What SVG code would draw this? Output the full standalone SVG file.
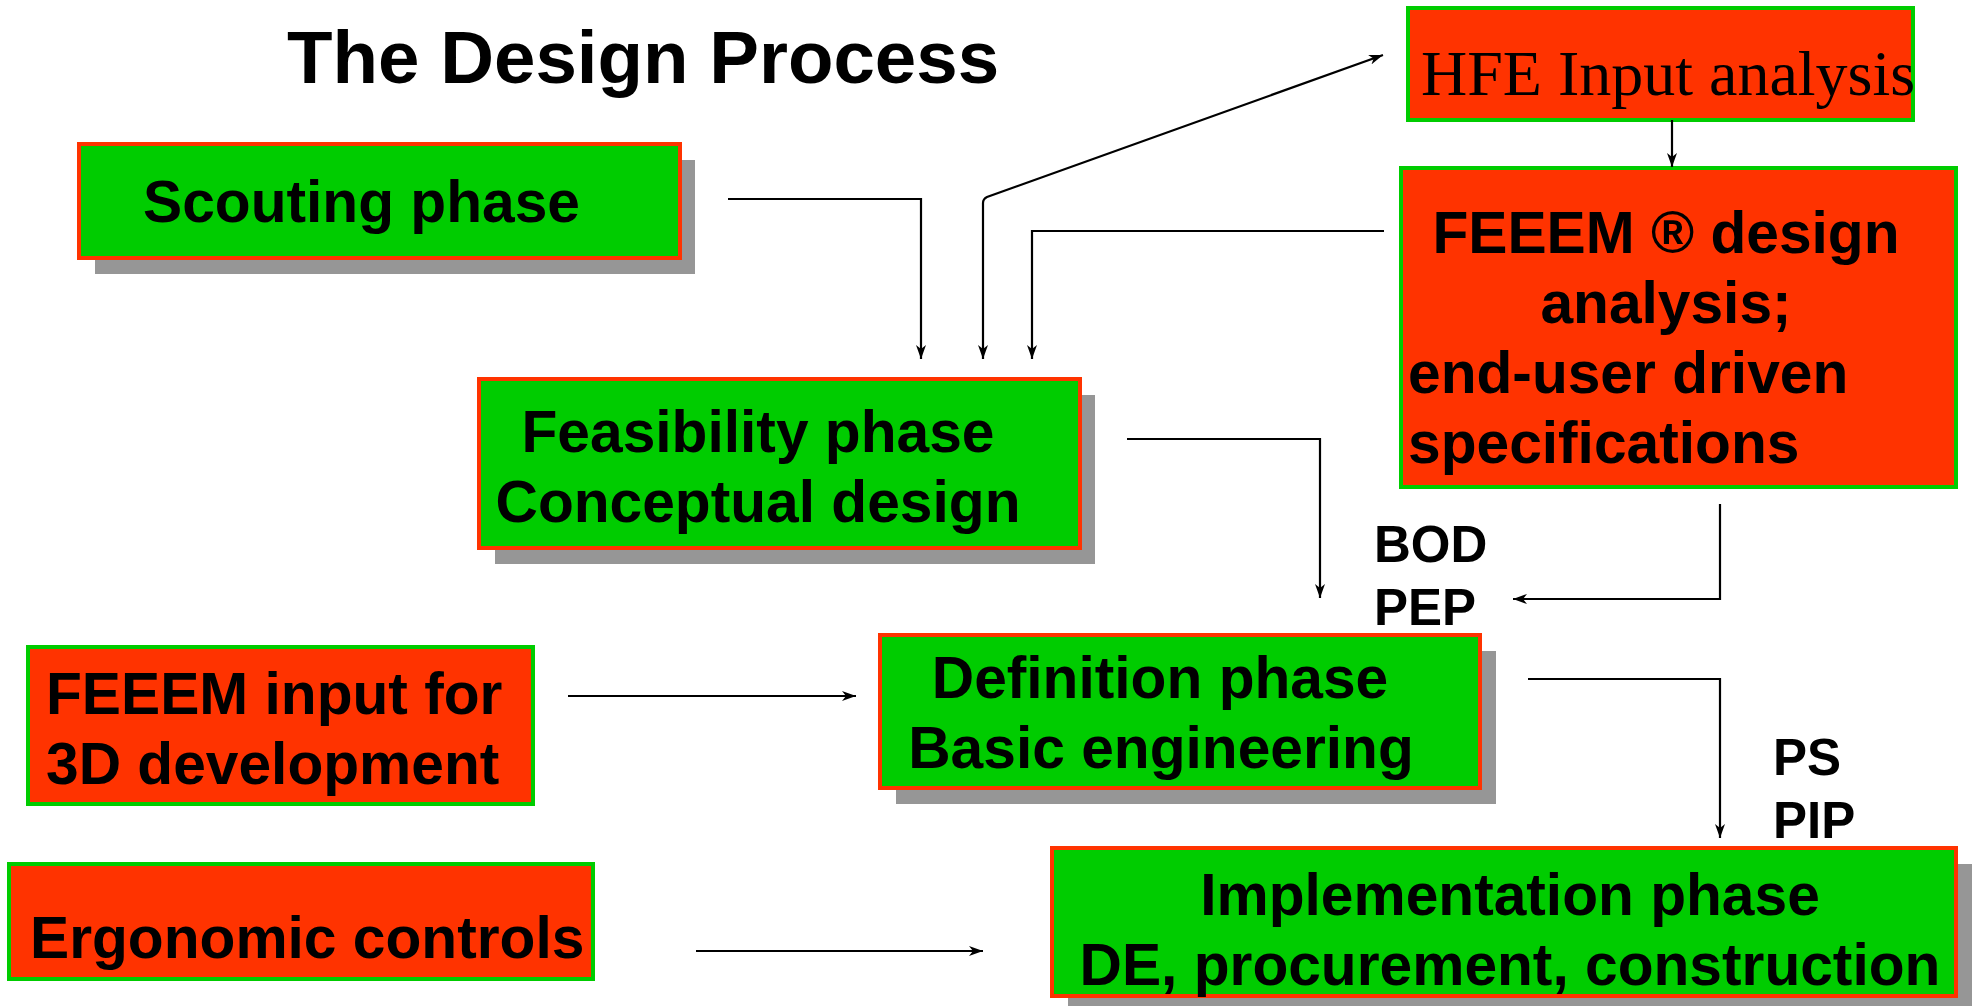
<svg xmlns="http://www.w3.org/2000/svg" width="1976" height="1006" viewBox="0 0 1976 1006">
<style>
.g{fill:#00CC00;stroke:#FF3300;stroke-width:4}
.r{fill:#FF3300;stroke:#00CC00;stroke-width:4}
.sh{fill:#969696}
.t{font-family:"Liberation Sans",Arial,sans-serif;font-weight:bold;font-size:58.7px;fill:#000}
.lbl{font-family:"Liberation Sans",Arial,sans-serif;font-weight:bold;font-size:51px;fill:#000}
.c{fill:none;stroke:#000;stroke-width:2.2}
</style>
<defs>
<marker id="a" viewBox="0 0 14 10" refX="14" refY="5" markerWidth="14" markerHeight="10" markerUnits="userSpaceOnUse" orient="auto-start-reverse">
<path d="M0,0 L14,5 L0,10 L4,5 z" fill="#000"/>
</marker>
</defs>
<rect width="1976" height="1006" fill="#fff"/>
<text x="287" y="83" font-family="Liberation Sans,Arial,sans-serif" font-weight="bold" font-size="74.5">The Design Process</text>

<g id="scouting">
<rect class="sh" x="95" y="160" width="600" height="114"/>
<rect class="g" x="79" y="144" width="601" height="114"/>
<text class="t" x="143" y="222">Scouting phase</text>
</g>

<g id="feasibility">
<rect class="sh" x="495" y="395" width="600" height="169"/>
<rect class="g" x="479" y="379" width="601" height="169"/>
<text class="t" x="758" y="452" text-anchor="middle">Feasibility phase</text>
<text class="t" x="758" y="522" text-anchor="middle">Conceptual design</text>
</g>

<g id="definition">
<rect class="sh" x="896" y="651" width="600" height="153"/>
<rect class="g" x="880" y="635" width="600" height="153"/>
<text class="t" x="1160" y="698" text-anchor="middle">Definition phase</text>
<text class="t" x="1161" y="768" text-anchor="middle">Basic engineering</text>
</g>

<g id="implementation">
<rect class="sh" x="1068" y="864" width="904" height="160"/>
<rect class="g" x="1052" y="848" width="904" height="148"/>
<text class="t" x="1510" y="915" text-anchor="middle">Implementation phase</text>
<text class="t" x="1510" y="985" text-anchor="middle">DE, procurement, construction</text>
</g>

<g id="hfe">
<rect class="r" x="1408" y="8" width="505" height="112"/>
<text x="1421" y="95" font-family="Liberation Serif,Times New Roman,serif" font-size="64">HFE Input analysis</text>
</g>

<g id="feeem-design">
<rect class="r" x="1401" y="168" width="555" height="319"/>
<text class="t" x="1666" y="253" text-anchor="middle">FEEEM ® design</text>
<text class="t" x="1666" y="323" text-anchor="middle">analysis;</text>
<text class="t" x="1408" y="393">end-user driven</text>
<text class="t" x="1408" y="463">specifications</text>
</g>

<g id="feeem-input">
<rect class="r" x="28" y="647" width="505" height="157"/>
<text class="t" x="46" y="714">FEEEM input for</text>
<text class="t" x="46" y="784">3D development</text>
</g>

<g id="ergonomic">
<rect class="r" x="9" y="864" width="584" height="115"/>
<text class="t" x="30" y="958">Ergonomic controls</text>
</g>

<g id="labels">
<text class="lbl" x="1374" y="562">BOD</text>
<text class="lbl" x="1374" y="625">PEP</text>
<text class="lbl" x="1773" y="775">PS</text>
<text class="lbl" x="1773" y="838">PIP</text>
</g>

<g id="connectors">
<path class="c" d="M728,199 H921 V359" marker-end="url(#a)"/>
<path class="c" d="M983,359 V203 Q983,199 987,197 L1383,55" marker-start="url(#a)" marker-end="url(#a)"/>
<path class="c" d="M1384,231 H1032 V359" marker-end="url(#a)"/>
<path class="c" d="M1672,120 V167" marker-end="url(#a)"/>
<path class="c" d="M1127,439 H1320 V598" marker-end="url(#a)"/>
<path class="c" d="M1720,504 V599 H1513" marker-end="url(#a)"/>
<path class="c" d="M568,696 H856" marker-end="url(#a)"/>
<path class="c" d="M1528,679 H1720 V838" marker-end="url(#a)"/>
<path class="c" d="M696,951 H983" marker-end="url(#a)"/>
</g>
</svg>
